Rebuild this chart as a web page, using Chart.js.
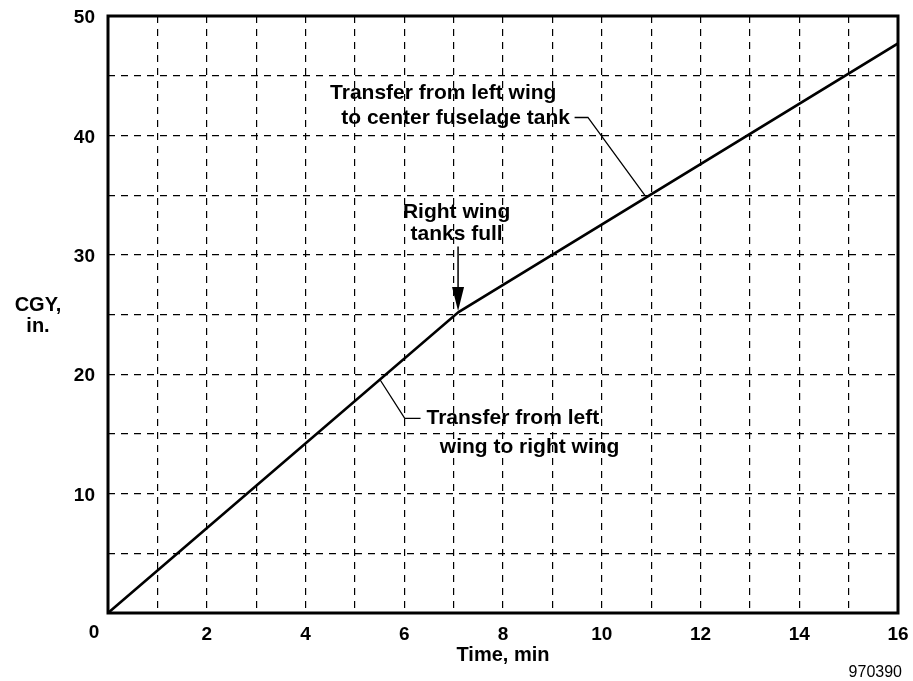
<!DOCTYPE html>
<html>
<head>
<meta charset="utf-8">
<title>CGY vs time</title>
<script src="https://cdn.jsdelivr.net/npm/chart.js@4/dist/chart.umd.min.js"></script>
<style>
  html, body { margin: 0; padding: 0; background: #fff; }
  #wrap { width: 913px; height: 681px; position: relative; }
</style>
</head>
<body>
<div id="wrap"><canvas id="cgyChart"></canvas></div>
<script>
// data
var timeMin = [0, 7.1, 16];
var cgyIn = [0, 25.2, 47.7];
var xTickStep = 1;   // dashed grid every minute, labels every 2
var yTickStep = 5;   // dashed grid every 5 in., labels every 10

var FONT = '"Liberation Sans", Arial, Helvetica, sans-serif';

(function () {
    'use strict';

    // white page + heavy frame + annotation callouts
    var figurePlugin = {
        id: 'figure',
        beforeDraw: function (chart) {
            var ctx = chart.ctx;
            ctx.save();
            ctx.fillStyle = '#fff';
            ctx.fillRect(0, 0, chart.width, chart.height);
            ctx.restore();
        },
        afterDraw: function (chart) {
            var ctx = chart.ctx;
            var a = chart.chartArea;
            var xs = chart.scales.x, ys = chart.scales.y;
            function px(v) { return xs.getPixelForValue(v); }
            function py(v) { return ys.getPixelForValue(v); }

            ctx.save();
            // frame
            ctx.strokeStyle = '#000';
            ctx.lineWidth = 3;
            ctx.strokeRect(a.left, a.top, a.right - a.left, a.bottom - a.top);

            // corner "0"
            ctx.fillStyle = '#000';
            ctx.font = 'bold 19px ' + FONT;
            ctx.textAlign = 'center';
            ctx.textBaseline = 'middle';
            ctx.fillText('0', a.left - 14, a.bottom + 20);

            // axis title on the left (two lines)
            ctx.font = 'bold 20px ' + FONT;
            ctx.fillText('CGY,', 38, 305);
            ctx.fillText('in.', 38, 326);

            // ref number
            ctx.font = '16px ' + FONT;
            ctx.textAlign = 'right';
            ctx.fillText('970390', 902, 673);

            // callouts
            ctx.font = 'bold 21px ' + FONT;
            ctx.textAlign = 'center';
            ctx.fillText('Transfer from left wing', px(6.79), py(43.5));
            ctx.fillText('to center fuselage tank', px(7.04), py(41.4));
            ctx.fillText('Right wing', px(7.06), py(33.6));
            ctx.fillText('tanks full', px(7.06), py(31.7));
            ctx.textAlign = 'left';
            ctx.fillText('Transfer from left', px(6.45), py(16.3));
            ctx.fillText('wing to right wing', px(6.72), py(13.9));

            ctx.lineWidth = 1.3;
            ctx.beginPath();
            ctx.moveTo(px(9.45), py(41.5));
            ctx.lineTo(px(9.72), py(41.5));
            ctx.lineTo(px(10.87), py(35.0));
            ctx.stroke();

            ctx.beginPath();
            ctx.moveTo(px(5.5), py(19.6));
            ctx.lineTo(px(6.01), py(16.3));
            ctx.lineTo(px(6.33), py(16.3));
            ctx.stroke();

            // arrow to the knee
            var ax = px(7.09);
            ctx.lineWidth = 1.5;
            ctx.beginPath();
            ctx.moveTo(ax, py(30.7));
            ctx.lineTo(ax, py(27));
            ctx.stroke();
            ctx.beginPath();
            ctx.moveTo(ax - 6, py(27.3));
            ctx.lineTo(ax + 6, py(27.3));
            ctx.lineTo(ax, py(25.3));
            ctx.closePath();
            ctx.fill();
            ctx.restore();
        }
    };

    var ctx = document.getElementById('cgyChart').getContext('2d');
    new Chart(ctx, {
        type: 'line',
        data: {
            datasets: [{
                data: timeMin.map(function (t, i) { return { x: t, y: cgyIn[i] }; }),
                borderColor: '#000',
                borderWidth: 2.6,
                pointRadius: 0,
                tension: 0,
                fill: false
            }]
        },
        options: {
            responsive: true,
            maintainAspectRatio: false,
            animation: false,
            layout: { padding: { top: 16, right: 15, left: 0, bottom: 0 } },
            plugins: {
                legend: { display: false },
                tooltip: { enabled: false }
            },
            scales: {
                x: {
                    type: 'linear',
                    min: 0,
                    max: 16,
                    afterFit: function (s) {
                        s.height = 68;
                        s.paddingLeft = 0;
                        s.paddingRight = 0;
                    },
                    grid: { color: '#000', lineWidth: 1.2, drawTicks: false },
                    border: { display: false, dash: [7, 6] },
                    ticks: {
                        stepSize: xTickStep,
                        color: '#000',
                        padding: 10,
                        maxRotation: 0,
                        autoSkip: false,
                        font: { family: FONT, size: 19, weight: 'bold' },
                        callback: function (v) { return (v % 2 === 0 && v !== 0) ? String(v) : ''; }
                    },
                    title: {
                        display: true,
                        text: 'Time, min',
                        color: '#000',
                        padding: { top: 0, bottom: 14 },
                        font: { family: FONT, size: 20, weight: 'bold' }
                    }
                },
                y: {
                    type: 'linear',
                    min: 0,
                    max: 50,
                    afterFit: function (s) {
                        s.width = 108;
                        s.paddingTop = 0;
                        s.paddingBottom = 0;
                    },
                    grid: { color: '#000', lineWidth: 1.2, drawTicks: false },
                    border: { display: false, dash: [7, 6] },
                    ticks: {
                        stepSize: yTickStep,
                        color: '#000',
                        padding: 13,
                        labelOffset: 2,
                        font: { family: FONT, size: 19, weight: 'bold' },
                        callback: function (v) { return (v % 10 === 0 && v !== 0) ? String(v) : ''; }
                    }
                }
            }
        },
        plugins: [figurePlugin]
    });
})();
</script>
</body>
</html>
